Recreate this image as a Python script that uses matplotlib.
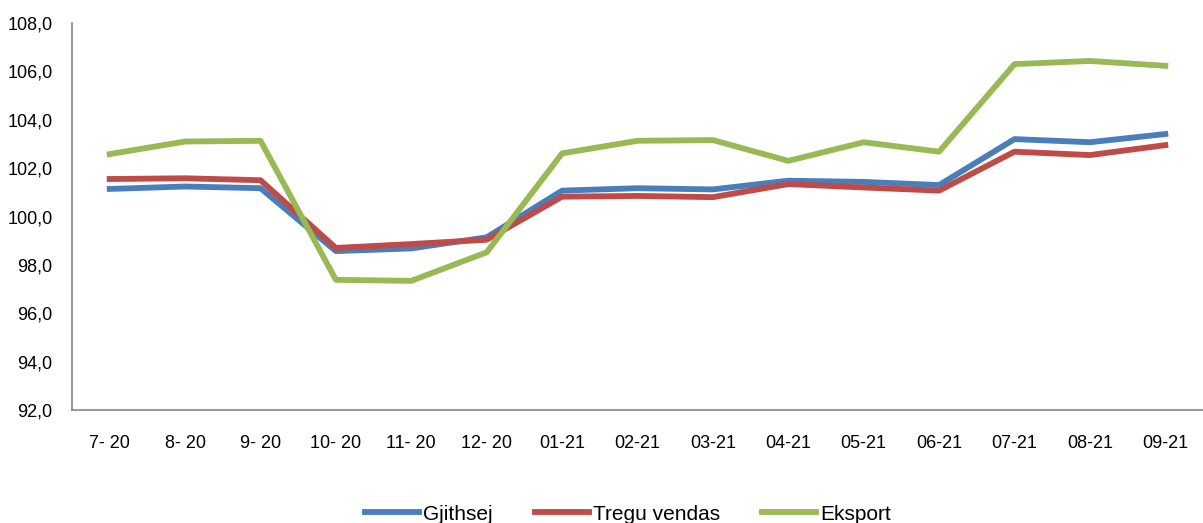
import matplotlib
matplotlib.use('Agg')
import matplotlib.pyplot as plt
from matplotlib.ticker import FuncFormatter

#data
months = ['7- 20', '8- 20', '9- 20', '10- 20', '11- 20', '12- 20', '01-21', '02-21',
          '03-21', '04-21', '05-21', '06-21', '07-21', '08-21', '09-21']
gjithsej = [101.14, 101.24, 101.17, 98.57, 98.68, 99.14, 101.07, 101.17,
            101.12, 101.48, 101.43, 101.30, 103.20, 103.07, 103.41]
tregu = [101.55, 101.58, 101.50, 98.70, 98.86, 99.04, 100.82, 100.85,
         100.80, 101.34, 101.20, 101.07, 102.68, 102.54, 102.95]
eksport = [102.58, 103.10, 103.13, 97.38, 97.34, 98.52, 102.61, 103.13,
           103.16, 102.30, 103.07, 102.68, 106.30, 106.43, 106.23]

plt.rcParams['font.family'] = ['Liberation Sans', 'DejaVu Sans']

fig = plt.figure(figsize=(12.03, 5.23), dpi=100)
ax = fig.add_axes([72/1203, 113/523, 1131/1203, 387/523])

x = range(len(months))
ax.plot(x, gjithsej, color='#4A7EBB', lw=4.2, label='Gjithsej')
ax.plot(x, tregu, color='#BE4B48', lw=4.2, label='Tregu vendas')
ax.plot(x, eksport, color='#98B954', lw=4.2, label='Eksport')

ax.set_ylim(92, 108)
ax.set_yticks(range(92, 109, 2))
ax.yaxis.set_major_formatter(FuncFormatter(lambda v, p: ('%.1f' % v).replace('.', ',')))
ax.set_xlim(-0.5, len(months) - 0.5)
ax.set_xticks(list(x))
ax.set_xticklabels(months)
ax.tick_params(axis='both', length=0, labelsize=13, colors='black')
ax.tick_params(axis='y', pad=14)
ax.tick_params(axis='x', pad=18)

for s in ['top', 'right']:
    ax.spines[s].set_visible(False)
for s in ['left', 'bottom']:
    ax.spines[s].set_color('#868686')
    ax.spines[s].set_linewidth(1.2)

fig.legend(loc='center', bbox_to_anchor=(628/1203, 9/523), ncol=3, frameon=False,
           fontsize=15, handlelength=2.6, handletextpad=0.2, columnspacing=2.0)

fig.savefig('out.png', dpi=100)
